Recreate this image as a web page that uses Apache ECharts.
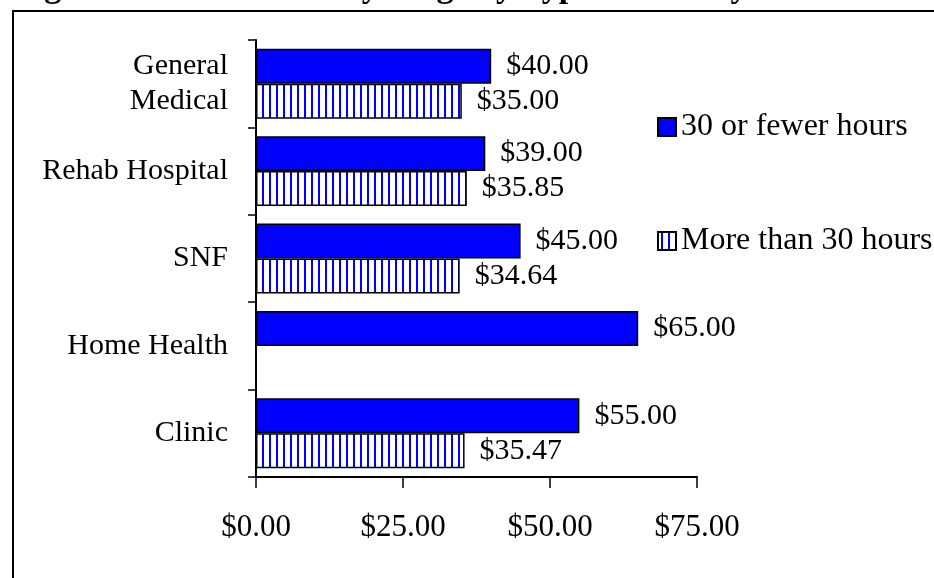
<!DOCTYPE html>
<html>
<head>
<meta charset="utf-8">
<script src="https://cdn.jsdelivr.net/npm/echarts@6/dist/echarts.min.js"></script>
<style>
  html, body { margin: 0; padding: 0; background: #fff; }
  #chart { width: 934px; height: 578px; }
</style>
</head>
<body>
<div id="chart"></div>
<script>
const categories = ['General\nMedical', 'Rehab Hospital', 'SNF', 'Home Health', 'Clinic'];
const fewerHours = [40.00, 39.00, 45.00, 65.00, 55.00];
const moreHours = [35.00, 35.85, 34.64, null, 35.47];
const xTicks = [0, 25, 50, 75];

const FONT = 'Liberation Serif';

// vertical stripe fill for the "More than 30 hours" series
const stripe = document.createElement('canvas');
stripe.width = 7;
stripe.height = 4;
const ctx = stripe.getContext('2d');
ctx.fillStyle = '#ffffff';
ctx.fillRect(0, 0, 7, 4);
ctx.fillStyle = '#0000ff';
ctx.fillRect(3, 0, 2, 4);

const chart = echarts.init(document.getElementById('chart'));

const money = v => '$' + Number(v).toFixed(2);

const option = {
  animation: false,
  graphic: [
    {
      // title, cut off at the top of the picture
      type: 'text',
      x: 14,
      y: 5,
      style: {
        text: 'Figure 3: Median Hourly Wage by Type of Facility',
        font: 'bold 34px "Liberation Serif"',
        fill: '#000',
        verticalAlign: 'bottom'
      }
    },
    {
      type: 'rect',
      shape: { x: 13, y: 11, width: 1000, height: 1000 },
      style: { fill: 'none', stroke: '#000', lineWidth: 2 },
      z: -1
    }
  ],
  legend: {
    orient: 'vertical',
    left: 652,
    top: 106,
    itemWidth: 18,
    itemHeight: 18,
    itemGap: 82,
    icon: 'rect',
    data: ['30 or fewer hours', 'More than 30 hours'],
    textStyle: { fontFamily: FONT, fontSize: 32, lineHeight: 30, color: '#000' }
  },
  grid: { left: 256, right: 237, top: 40, bottom: 101 },
  xAxis: {
    type: 'value',
    min: xTicks[0],
    max: xTicks[xTicks.length - 1],
    interval: 25,
    splitLine: { show: false },
    axisLine: { show: true, lineStyle: { color: '#000', width: 2 } },
    axisTick: { show: true, length: 11, lineStyle: { color: '#000', width: 1.5 } },
    axisLabel: {
      margin: 35,
      fontFamily: FONT,
      fontSize: 31,
      color: '#000',
      formatter: money
    }
  },
  yAxis: {
    type: 'category',
    inverse: true,
    data: categories,
    axisLine: { show: true, lineStyle: { color: '#000', width: 2 } },
    axisTick: { show: true, length: 8, lineStyle: { color: '#000', width: 1.5 } },
    axisLabel: {
      margin: 28,
      fontFamily: FONT,
      fontSize: 30,
      lineHeight: 35,
      color: '#000'
    }
  },
  series: [
    {
      name: '30 or fewer hours',
      type: 'bar',
      data: fewerHours,
      barCategoryGap: '20%',
      barGap: '0%',
      itemStyle: { color: '#0000ff', borderColor: '#000', borderWidth: 1.5 },
      label: {
        show: true,
        position: 'right',
        distance: 15,
        fontFamily: FONT,
        fontSize: 30,
        color: '#000',
        formatter: p => money(p.value)
      }
    },
    {
      name: 'More than 30 hours',
      type: 'bar',
      data: moreHours,
      barCategoryGap: '20%',
      barGap: '0%',
      itemStyle: {
        color: { image: stripe, repeat: 'repeat' },
        borderColor: '#000',
        borderWidth: 1.5
      },
      label: {
        show: true,
        position: 'right',
        distance: 15,
        fontFamily: FONT,
        fontSize: 30,
        color: '#000',
        formatter: p => money(p.value)
      }
    }
  ]
};

chart.setOption(option);
</script>
</body>
</html>
